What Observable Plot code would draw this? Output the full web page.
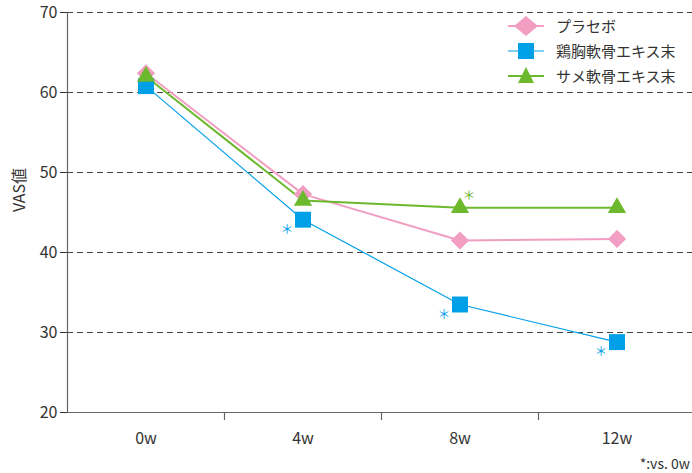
<!DOCTYPE html>
<html><head><meta charset="utf-8">
<script src="https://cdn.jsdelivr.net/npm/d3@7"></script>
<script src="https://cdn.jsdelivr.net/npm/@observablehq/plot@0.6"></script>
<style>
body{margin:0;background:#fff;font-family:"Noto Sans CJK JP","Noto Sans",sans-serif;}
#wrap{position:relative;width:692px;height:473px;}
#legend{position:absolute;left:508px;top:13px;font-size:15px;color:#333;}
.row{display:flex;align-items:center;height:25px;}
.row svg{margin-right:12px;}
#note{position:absolute;right:2px;top:453px;font-size:14px;color:#333;}
#ylab{position:absolute;left:18px;top:190px;transform:translate(-50%,-50%) rotate(-90deg);font-size:16px;color:#333;white-space:nowrap;}
</style></head>
<body><div id="wrap"><div id="legend"></div><div id="ylab">VAS値</div><div id="note">*:vs. 0w</div></div>
<script>
const weeks = ["0w","4w","8w","12w"];
const yTicks = [20,30,40,50,60,70];
const seriesNames = ["プラセボ","鶏胸軟骨エキス末","サメ軟骨エキス末"];
const placebo = [62.4, 47.3, 41.5, 41.7];
const chicken = [60.8, 44.1, 33.5, 28.8];
const shark = [62.0, 46.5, 45.6, 45.6];
const chickenSig = [false, true, true, true];
const sharkSig = [false, false, true, false];
const colors = ["#f19ec2","#00a0e9","#6cb92d"];
const symbols = ["diamond2","square","triangle"];
const radii = [8.2, 9.0, 6.8];
const widths = [2, 1.2, 2];

const all = [placebo, chicken, shark];
const marks = [
  Plot.ruleY([30,40,50,60,70], {stroke:"#444", strokeDasharray:"6,4", strokeWidth:1}),
  Plot.ruleY([20], {stroke:"#666", strokeWidth:1.2}),
  Plot.ruleX([-0.5], {stroke:"#666", strokeWidth:1.2}),
  Plot.ruleX([0.5,1.5,2.5], {y1:20, y2:19, stroke:"#666", strokeWidth:1.2}),
];
all.forEach((vals, s) => {
  const data = vals.map((v,i)=>({x:i, y:v}));
  marks.push(Plot.line(data, {x:"x", y:"y", stroke:colors[s], strokeWidth:widths[s]}));
});
all.forEach((vals, s) => {
  const data = vals.map((v,i)=>({x:i, y:v}));
  marks.push(Plot.dot(data, {x:"x", y:"y", symbol:()=>symbols[s], r:radii[s], fill:colors[s], stroke:"none"}));
});
const cs = chicken.map((v,i)=>({x:i,y:v,s:chickenSig[i]})).filter(d=>d.s);
const ss = shark.map((v,i)=>({x:i,y:v,s:sharkSig[i]})).filter(d=>d.s);
marks.push(Plot.text(cs, {x:"x", y:"y", text:()=>"＊", fill:colors[1], fontSize:13, dx:-16, dy:10}));
marks.push(Plot.text(ss, {x:"x", y:"y", text:()=>"＊", fill:colors[2], fontSize:13, dx:9, dy:-12}));

const chart = Plot.plot({
  width:692, height:473,
  marginLeft:67, marginRight:0, marginTop:12, marginBottom:61,
  style:{fontFamily:'"Noto Sans CJK JP","Noto Sans",sans-serif', fontSize:"16px", color:"#333", background:"transparent"},
  x:{type:"linear", domain:[-0.5,3.5], range:[67,695], ticks:[0,1,2,3], tickSize:0, tickPadding:20, tickFormat:i=>weeks[i], label:null},
  y:{domain:[20,70], range:[412,12], ticks:yTicks, tickSize:7, tickPadding:3, label:null},
  marks
});
document.getElementById("wrap").prepend(chart);
chart.style.position="absolute"; chart.style.left="0"; chart.style.top="0";

const leg = document.getElementById("legend");
const symPath = {
  diamond2: "M18,0 L30,10 L18,20 L6,10 Z",
  square: "M10,2 h16 v16 h-16 Z",
  triangle: "M18,1 L26,17 L10,17 Z"
};
seriesNames.forEach((n,s)=>{
  const row = document.createElement("div"); row.className="row";
  row.innerHTML = `<svg width="36" height="20"><line x1="0" x2="36" y1="10" y2="10" stroke="${colors[s]}" stroke-width="${widths[s]}"/><path d="${symPath[symbols[s]]}" fill="${colors[s]}"/></svg><span>${n}</span>`;
  leg.appendChild(row);
});
</script></body></html>
